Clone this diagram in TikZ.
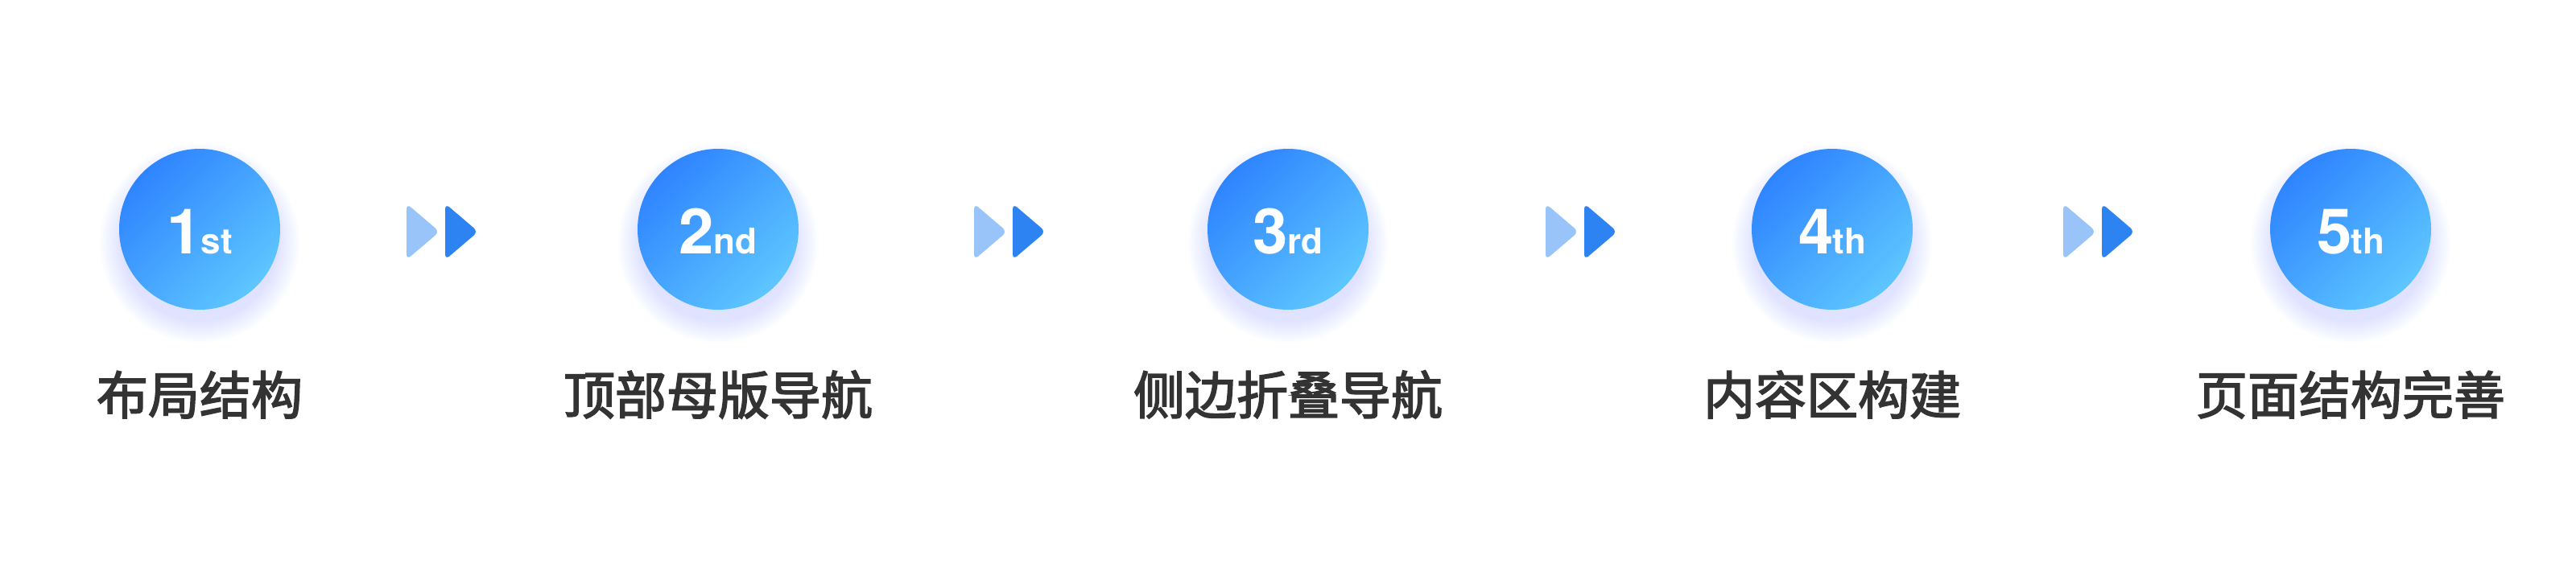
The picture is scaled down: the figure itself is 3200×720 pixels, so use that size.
\documentclass[tikz,border=0pt]{standalone}
\usepackage{fontspec}
\setmainfont{TeX Gyre Heros}
\newfontfamily\cjk[FakeBold=2.5]{Noto Sans CJK SC}
\usepackage{xcolor}
\definecolor{stepdark}{RGB}{46,132,255}
\definecolor{steplight}{RGB}{94,198,255}
\definecolor{glowblue}{RGB}{120,150,255}
\definecolor{arrowdarkc}{RGB}{45,131,242}
\definecolor{arrowlitec}{RGB}{152,196,250}
\definecolor{labelgray}{RGB}{51,51,51}
\tikzset{
  stepcircle/.style={circle, minimum size=200pt, inner sep=0pt,
    top color=stepdark, bottom color=steplight, shading angle=45},
  glow/.style={fill=glowblue, opacity=0.014},
  stepnum/.style={anchor=base, inner sep=0pt, text=white, font=\bfseries},
  steplabel/.style={anchor=base, inner sep=0pt, text=labelgray,
    font=\cjk\fontsize{64}{64}\selectfont},
  arrowlite/.style={fill=arrowlitec, rounded corners=7pt},
  arrowdark/.style={fill=arrowdarkc, rounded corners=7pt}
}

\begin{document}
\begin{tikzpicture}[x=1pt,y=-1pt]
\fill[white] (0,0) rectangle (3200,720);
% steps
\foreach \x/\n/\s/\t in {248/1/st/布局结构, 892/2/nd/顶部母版导航, 1600/3/rd/侧边折叠导航,
                         2276/4/th/内容区构建, 2920/5/th/页面结构完善} {
  \foreach \k in {1,...,14}
    \fill[glow] (\x,302) circle[radius={(96+2*\k)*1pt}];
  \node[stepcircle] (c\n) at (\x,285) {};
  \node[stepnum] (n\n) at (\x,315)
    {\fontsize{78}{78}\selectfont\n\kern-1pt\fontsize{44}{44}\selectfont\s};
  \node[steplabel] (l\n) at (\x,515) {\t};
}
% double arrows
\foreach \a in {505,1210,1920,2563} {
  \fill[arrowlite] (\a,253) -- (\a+41,288) -- (\a,323) -- cycle;
  \fill[arrowdark] (\a+48,253) -- (\a+89,288) -- (\a+48,323) -- cycle;
}
\end{tikzpicture}
\end{document}
